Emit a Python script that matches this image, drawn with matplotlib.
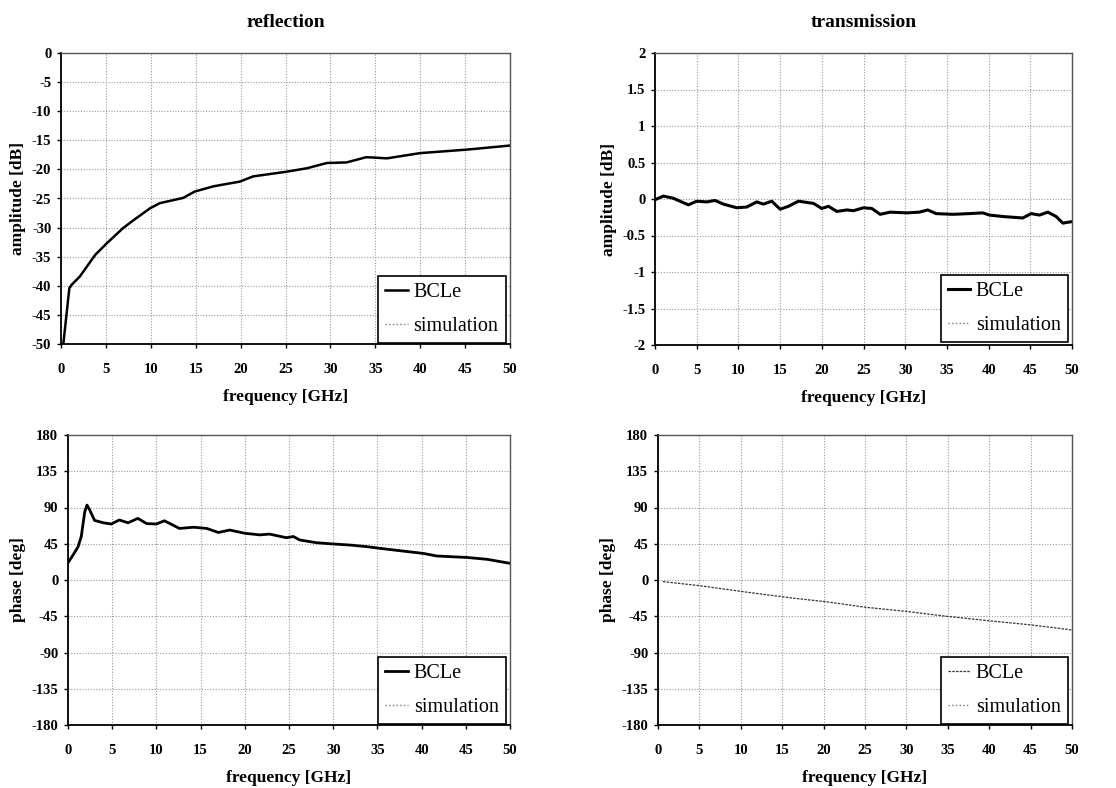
import matplotlib
matplotlib.use("Agg")
import matplotlib.pyplot as plt
from matplotlib.ticker import MultipleLocator

plt.rcParams["font.family"] = ["Liberation Serif", "DejaVu Serif"]
plt.rcParams["axes.unicode_minus"] = False

# --- reflection amplitude [dB] ---
refl_amp_f = [0.26, 0.93, 1.2, 2.1, 3.8, 5.1, 6.9, 8.1, 9.9, 11.0, 13.6, 14.9, 17.0,
              18.8, 19.9, 21.4, 25.1, 27.4, 29.6, 31.8, 34.0, 36.3, 40.0, 45.2, 50.0]
refl_amp_db = [-50.0, -40.4, -39.8, -38.4, -34.7, -32.7, -30.1, -28.7, -26.7, -25.8,
               -24.9, -23.8, -22.9, -22.4, -22.1, -21.2, -20.4, -19.8, -18.9, -18.8,
               -17.9, -18.1, -17.2, -16.6, -15.9]

# --- transmission amplitude [dB] ---
trans_amp_f = [0, 1, 2.2, 4, 5, 6.2, 7.2, 8.2, 9.8, 11, 12.2, 13, 14, 15, 16, 17.2, 19,
               20, 20.8, 21.8, 23, 23.8, 25, 26, 27, 28.2, 30.2, 31.7, 32.7, 33.7, 35.7,
               37.7, 39.3, 40.1, 41.7, 44.1, 45.1, 46.1, 47.1, 48.1, 48.9, 50]
trans_amp_db = [-0.01, 0.04, 0.01, -0.08, -0.03, -0.04, -0.02, -0.07, -0.12, -0.11,
                -0.04, -0.07, -0.03, -0.14, -0.10, -0.03, -0.06, -0.13, -0.10, -0.17,
                -0.15, -0.16, -0.12, -0.13, -0.21, -0.18, -0.19, -0.18, -0.15, -0.20,
                -0.21, -0.20, -0.19, -0.22, -0.24, -0.26, -0.20, -0.22, -0.18, -0.24,
                -0.33, -0.31]

# --- reflection phase [deg] ---
refl_ph_f = [0, 0.57, 1.13, 1.5, 1.9, 2.15, 2.45, 3.0, 4.0, 4.9, 5.8, 6.8, 7.9, 8.9,
             10.0, 10.9, 11.9, 12.6, 14.2, 15.7, 17.0, 18.3, 20.0, 21.7, 22.8, 24.7,
             25.5, 26.2, 28.1, 30.0, 31.9, 33.8, 35.3, 37.5, 40.2, 41.7, 43.2, 45.1,
             47.4, 48.9, 50.0]
refl_ph_deg = [21.5, 31, 41, 54, 85, 93, 87, 74, 71, 69.5, 74.5, 71, 76.5, 70, 69.5,
               73.5, 68, 64, 65.5, 64, 59, 62, 58, 56, 57, 52.5, 54, 49.7, 46.3, 44.7,
               43.4, 41.4, 39.3, 36.4, 33, 29.8, 29, 28, 25.7, 22.8, 20.7]

# --- transmission phase [deg] ---
trans_ph_f = [0.6, 5.0, 9.9, 16.3, 20.3, 25.2, 30.0, 34.8, 40.0, 44.9, 50.0]
trans_ph_deg = [-2, -7, -14, -22.5, -27, -34, -39, -45, -50.6, -55.6, -62]

fig = plt.figure(figsize=(11.16, 7.88), dpi=100)
W, H = 1116, 788


def box(l, r, t, b):
    return [l / W, 1 - b / H, (r - l) / W, (b - t) / H]


ax_ra = fig.add_axes(box(61, 510, 53, 344))
ax_ta = fig.add_axes(box(655, 1072, 53, 345))
ax_rp = fig.add_axes(box(68, 510, 435, 725))
ax_tp = fig.add_axes(box(658, 1072, 435, 725))

label_font = dict(fontsize=12.5, fontweight="bold")


def style(ax, ylim, ystep, ylabel, leg_anchor):
    ax.set_xlim(0, 50)
    ax.set_ylim(*ylim)
    ax.xaxis.set_major_locator(MultipleLocator(5))
    ax.yaxis.set_major_locator(MultipleLocator(ystep))
    ax.yaxis.set_major_formatter(plt.FuncFormatter(lambda v, p: f"{v:g}"))
    ax.grid(True, color="#9a9a9a", linestyle=(0, (1, 1.5)), linewidth=0.8)
    ax.set_axisbelow(True)
    ax.tick_params(direction="out", length=3, width=1, colors="black",
                   labelsize=10.5)
    ax.tick_params(axis="x", pad=11)
    ax.tick_params(axis="y", pad=4)
    for lab in ax.get_xticklabels() + ax.get_yticklabels():
        lab.set_fontweight("bold")
    for side in ("left", "bottom"):
        ax.spines[side].set_linewidth(1.3)
    for side in ("top", "right"):
        ax.spines[side].set_linewidth(1.0)
        ax.spines[side].set_color("#555555")
    ax.set_xlabel("frequency [GHz]", labelpad=9, **label_font)
    ax.set_ylabel(ylabel, labelpad=4, **label_font)
    leg = ax.legend(loc="lower right", bbox_to_anchor=leg_anchor,
                    borderaxespad=0, fontsize=14.5, handlelength=1.1,
                    handletextpad=0.3, labelspacing=0.75, borderpad=0.35,
                    fancybox=False, framealpha=1, edgecolor="black")
    leg.get_frame().set_linewidth(1.2)


# reflection amplitude
ax_ra.plot(refl_amp_f, refl_amp_db, color="black", lw=1.8, label="BCLe")
ax_ra.plot([], [], color="#777777", ls=":", lw=1, label="simulation")
style(ax_ra, (-50, 0), 5, "amplitude [dB]", (0.99, 0.003))
ax_ra.set_title("reflection", pad=19, fontsize=14, fontweight="bold")

# transmission amplitude
ax_ta.plot(trans_amp_f, trans_amp_db, color="black", lw=2.2, label="BCLe")
ax_ta.plot([], [], color="#777777", ls=":", lw=1, label="simulation")
style(ax_ta, (-2, 2), 0.5, "amplitude [dB]", (0.99, 0.01))
ax_ta.set_title("transmission", pad=19, fontsize=14, fontweight="bold")

# reflection phase
ax_rp.plot(refl_ph_f, refl_ph_deg, color="black", lw=2.0, label="BCLe")
ax_rp.plot([], [], color="#777777", ls=":", lw=1, label="simulation")
style(ax_rp, (-180, 180), 45, "phase [deg]", (0.99, 0.003))

# transmission phase
ax_tp.plot(trans_ph_f, trans_ph_deg, color="#333333", lw=0.9, ls=(0, (2, 1)),
           label="BCLe")
ax_tp.plot([], [], color="#777777", ls=":", lw=1, label="simulation")
style(ax_tp, (-180, 180), 45, "phase [deg]", (0.99, 0.003))

fig.savefig("out.png", dpi=100, facecolor="white")
